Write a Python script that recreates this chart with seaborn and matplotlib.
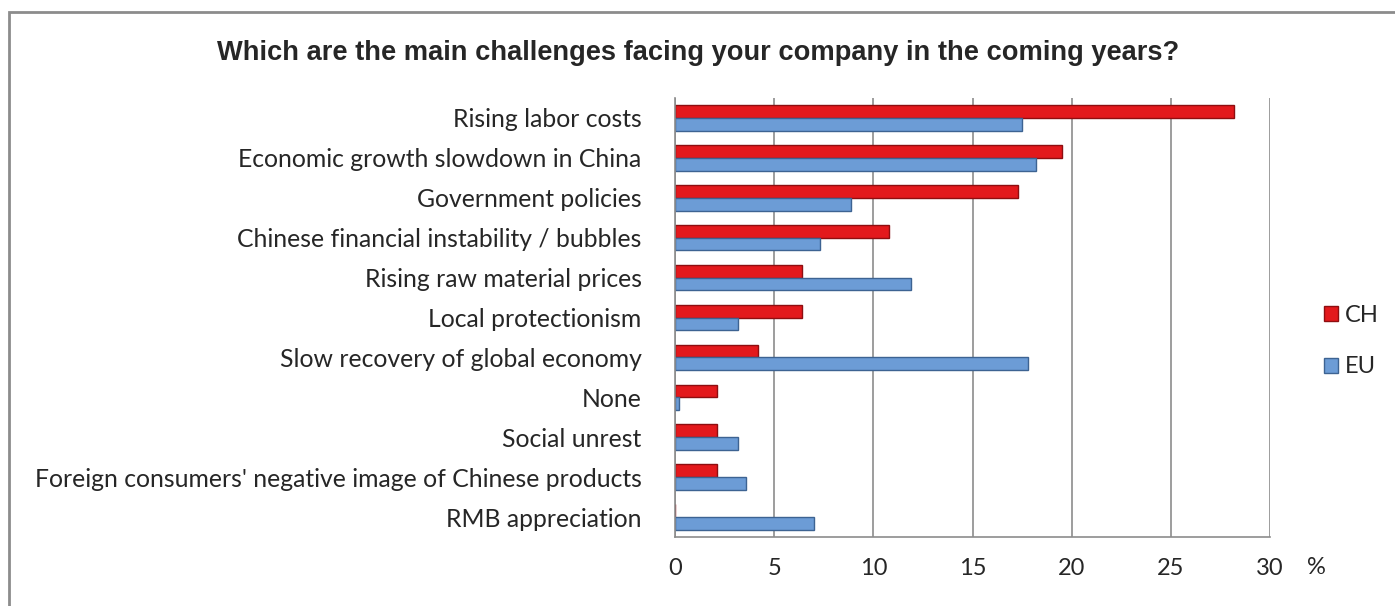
import matplotlib
matplotlib.use("Agg")
import matplotlib.pyplot as plt
import seaborn as sns
import pandas as pd
from matplotlib.patches import Rectangle, Patch

categories = [
    "Rising labor costs",
    "Economic growth slowdown in China",
    "Government policies",
    "Chinese financial instability / bubbles",
    "Rising raw material prices",
    "Local protectionism",
    "Slow recovery of global economy",
    "None",
    "Social unrest",
    "Foreign consumers' negative image of Chinese products",
    "RMB appreciation",
]
ch_values = [28.2, 19.5, 17.3, 10.8, 6.4, 6.4, 4.2, 2.1, 2.1, 2.1, 0.0]
eu_values = [17.5, 18.2, 8.85, 7.3, 11.9, 3.2, 17.8, 0.2, 3.2, 3.6, 7.0]
series = ["CH", "EU"]
x_ticks = [0, 5, 10, 15, 20, 25, 30]

df = pd.DataFrame({
    "category": categories * 2,
    "value": ch_values + eu_values,
    "series": ["CH"] * len(categories) + ["EU"] * len(categories),
})

sns.set_style("white")
plt.rcParams["font.family"] = ["Lato", "DejaVu Sans"]

fig = plt.figure(figsize=(13.95, 6.06), dpi=100)
ax = fig.add_axes([675 / 1395, 1 - 537 / 606, (1270 - 675) / 1395, (537 - 98) / 606])

palette = {"CH": "#E3191C", "EU": "#6C9CD6"}
sns.barplot(data=df, y="category", x="value", hue="series", hue_order=series,
            order=categories, palette=palette, orient="h", width=0.64,
            saturation=1, ax=ax, legend=False, gap=0)

edge = {"CH": "#8E0E10", "EU": "#3D6392"}
for container, s in zip(ax.containers, series):
    for bar in container:
        bar.set_edgecolor(edge[s])
        bar.set_linewidth(1.0)

ax.set_xlim(0, 30)
ax.set_ylim(len(categories) - 0.5, -0.5)
ax.set_xticks(x_ticks)
ax.set_xticklabels([str(t) for t in x_ticks], fontsize=17)
ax.tick_params(axis="x", length=0, pad=15)
ax.tick_params(axis="y", length=0, pad=24, labelsize=17.8)
ax.set_xlabel("")
ax.set_ylabel("")
ax.grid(axis="x", color="#8C8C8C", linewidth=1.2)
ax.set_axisbelow(True)
for side in ["top", "right"]:
    ax.spines[side].set_visible(False)
for side in ["left", "bottom"]:
    ax.spines[side].set_color("#8C8C8C")
    ax.spines[side].set_linewidth(1.2)

fig.text(1316 / 1395, 1 - 567 / 606, "%", fontsize=17, ha="center", va="center")

fig.text(698 / 1395, 1 - 53 / 606, "Which are the main challenges facing your company in the coming years?",
         fontsize=19.6, fontweight="bold", ha="center", va="center",
         family=["Liberation Sans", "DejaVu Sans"])

handles = [Patch(facecolor=palette[s], edgecolor=edge[s], label=s) for s in series]
fig.legend(handles=handles, loc="center left", bbox_to_anchor=(1324 / 1395, 1 - 341 / 606),
           frameon=False, fontsize=17, handlelength=0.6, handleheight=0.6,
           labelspacing=1.3, handletextpad=0.3, borderpad=0, borderaxespad=0)

fig.patches.append(Rectangle((9 / 1395, -0.1), 1.2, 1 - 12 / 606 + 0.1, transform=fig.transFigure,
                             fill=False, edgecolor="#8C8C8C", linewidth=2))

fig.savefig("out.png", dpi=100)
